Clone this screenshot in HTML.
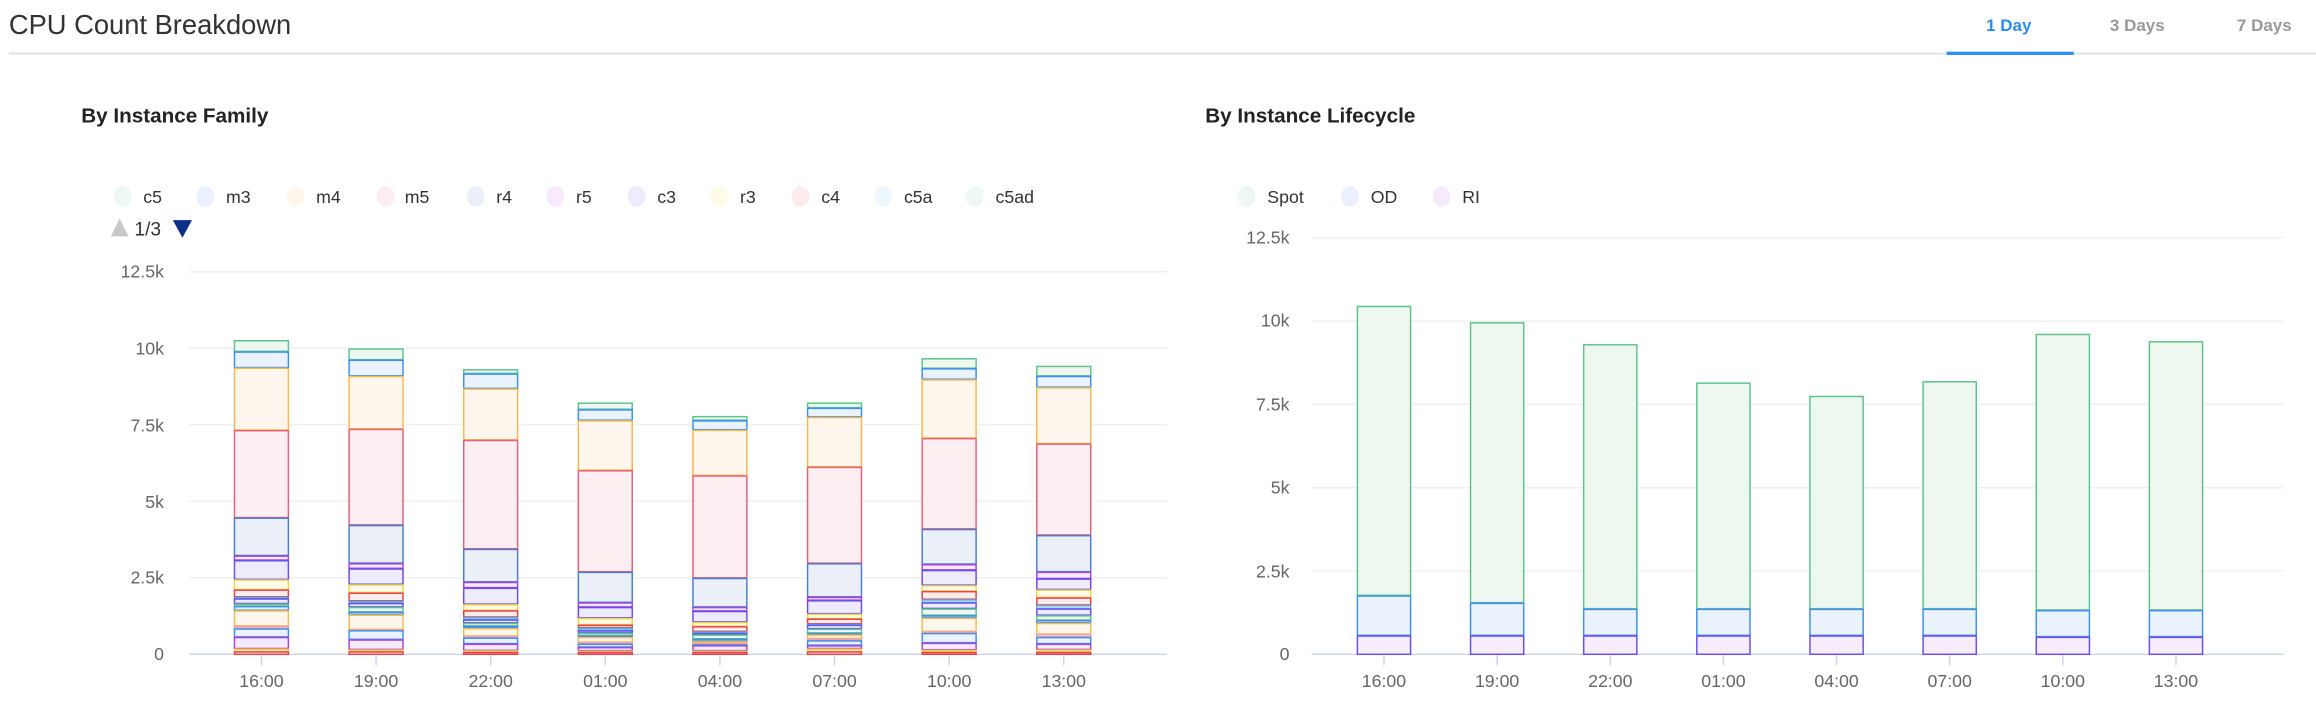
<!DOCTYPE html>
<html><head><meta charset="utf-8"><style>
html,body{margin:0;padding:0;background:#fff;width:2316px;height:702px;overflow:hidden}
svg{display:block}
text{font-family:"Liberation Sans",sans-serif}
</style></head><body>
<svg id="s" width="2316" height="702" viewBox="0 0 1568 475.3" preserveAspectRatio="none">
<text x="6" y="23" font-size="18.5" fill="#333">CPU Count Breakdown</text>
<text x="1360" y="21" font-size="11.5" font-weight="bold" fill="#2d8cf0" text-anchor="middle">1 Day</text>
<text x="1447" y="21" font-size="11.5" font-weight="bold" fill="#999" text-anchor="middle">3 Days</text>
<text x="1533" y="21" font-size="11.5" font-weight="bold" fill="#999" text-anchor="middle">7 Days</text>
<rect x="6" y="35.5" width="1562" height="1.5" fill="#e3e3e3"/>
<rect x="1318" y="35" width="86" height="2.2" fill="#2d8cf0"/>
<text x="55" y="83" font-size="14" font-weight="bold" fill="#222">By Instance Family</text>
<text x="816" y="83" font-size="14" font-weight="bold" fill="#222">By Instance Lifecycle</text>
<g font-size="12" fill="#333">
<ellipse cx="83" cy="133" rx="6" ry="7" fill="#ecf8f1"/><text x="97" y="137.5">c5</text>
<ellipse cx="139" cy="133" rx="6" ry="7" fill="#eaf1fd"/><text x="153" y="137.5">m3</text>
<ellipse cx="200" cy="133" rx="6" ry="7" fill="#fff6ec"/><text x="214" y="137.5">m4</text>
<ellipse cx="261" cy="133" rx="6" ry="7" fill="#fdedf2"/><text x="274" y="137.5">m5</text>
<ellipse cx="322" cy="133" rx="6" ry="7" fill="#eaeff8"/><text x="336" y="137.5">r4</text>
<ellipse cx="376" cy="133" rx="6" ry="7" fill="#f6eafc"/><text x="390" y="137.5">r5</text>
<ellipse cx="431" cy="133" rx="6" ry="7" fill="#eeebfd"/><text x="445" y="137.5">c3</text>
<ellipse cx="487" cy="133" rx="6" ry="7" fill="#fffbe9"/><text x="501" y="137.5">r3</text>
<ellipse cx="542" cy="133" rx="6" ry="7" fill="#fdecee"/><text x="556" y="137.5">c4</text>
<ellipse cx="598" cy="133" rx="6" ry="7" fill="#eef7fd"/><text x="612" y="137.5">c5a</text>
<ellipse cx="660" cy="133" rx="6" ry="7" fill="#eef9f5"/><text x="674" y="137.5">c5ad</text>
<path d="M75 160 L81 148 L87 160 Z" fill="#c8c8c8"/>
<text x="91" y="159.5" font-size="13" fill="#333">1/3</text>
<path d="M117 149 L130 149 L123.5 161 Z" fill="#0d2f8a"/>
<ellipse cx="844" cy="133" rx="6" ry="7" fill="#ecf8f1"/><text x="858" y="137.5">Spot</text>
<ellipse cx="914" cy="133" rx="6" ry="7" fill="#eaf1fd"/><text x="928" y="137.5">OD</text>
<ellipse cx="976" cy="133" rx="6" ry="7" fill="#f6eafc"/><text x="990" y="137.5">RI</text>
</g>
<g id="L"></g><g id="R"></g>
<g font-size="12" fill="#666" text-anchor="end">
<text x="111" y="188">12.5k</text><text x="111" y="240">10k</text><text x="111" y="292">7.5k</text><text x="111" y="344">5k</text><text x="111" y="395">2.5k</text><text x="111" y="447">0</text>
<text x="873" y="165">12.5k</text><text x="873" y="221">10k</text><text x="873" y="278">7.5k</text><text x="873" y="334">5k</text><text x="873" y="391">2.5k</text><text x="873" y="447">0</text>
</g>
<g font-size="12" fill="#666" text-anchor="middle">
<text x="177" y="465">16:00</text><text x="254.6" y="465">19:00</text><text x="332.2" y="465">22:00</text><text x="409.8" y="465">01:00</text><text x="487.4" y="465">04:00</text><text x="565" y="465">07:00</text><text x="642.6" y="465">10:00</text><text x="720.2" y="465">13:00</text>
<text x="937" y="465">16:00</text><text x="1013.6" y="465">19:00</text><text x="1090.2" y="465">22:00</text><text x="1166.8" y="465">01:00</text><text x="1243.4" y="465">04:00</text><text x="1320" y="465">07:00</text><text x="1396.6" y="465">10:00</text><text x="1473.2" y="465">13:00</text>
</g>
</svg>
<script>
var NS="http://www.w3.org/2000/svg";
function el(p,t,a){var e=document.createElementNS(NS,t);for(var k in a)e.setAttribute(k,a[k]);p.appendChild(e);return e;}
var C={G:["#5fc28d","#eef8f1"],B:["#3d8ff0","#eaf2fd"],O:["#f5b94f","#fff7ed"],P:["#e8607a","#fdeef2"],R4:["#4a7fd0","#eaeff8"],PU:["#a845d8","#f5eafc"],V:["#6a4ef0","#eeebfd"],Y:["#ecd34a","#fffbe8"],RD:["#e8404a","#fdecec"],CA:["#4fb3e8","#eef7fd"],PL:["#f0a0b0","#fdf0f2"],T:["#5fbf9f","#eef9f5"]};
var seq=["G","B","O","P","R4","PU","V","Y","RD","CA","V","G","B","O","PL","B","PU","Y","RD"];
var L=document.getElementById("L"),R=document.getElementById("R");
[0,2.5,5,7.5,10,12.5].forEach(function(v){var y=443-v/12.5*259;el(L,"rect",{x:128,y:y-0.5,width:662,height:1,fill:v?"#f0f0f0":"#ccd6eb"});
var y2=443-v/12.5*282;el(R,"rect",{x:888,y:y2-0.5,width:658,height:1,fill:v?"#f0f0f0":"#ccd6eb"});});
var bars=[
[10.27,9.9,9.37,7.33,4.47,3.23,3.08,2.45,2.12,1.88,1.83,1.66,1.58,1.44,0.93,0.85,0.57,0.19,0.1],
[10.0,9.63,9.1,7.37,4.23,2.98,2.81,2.29,2.02,1.75,1.68,1.55,1.39,1.3,0.82,0.79,0.49,0.16,0.1],
[9.32,9.18,8.69,7.01,3.45,2.37,2.18,1.64,1.44,1.22,1.14,1.03,0.93,0.86,0.6,0.55,0.35,0.13,0.08],
[8.23,8.01,7.65,6.02,2.7,1.7,1.55,1.19,0.97,0.87,0.79,0.71,0.62,0.57,0.4,0.35,0.24,0.12,0.08],
[7.79,7.65,7.34,5.85,2.5,1.55,1.42,1.06,0.92,0.75,0.7,0.65,0.51,0.43,0.36,0.33,0.3,0.12,0.08],
[8.23,8.06,7.76,6.13,2.98,1.88,1.77,1.33,1.17,1.0,0.97,0.84,0.7,0.65,0.52,0.46,0.3,0.19,0.1],
[9.68,9.35,8.99,7.07,4.1,2.95,2.76,2.26,2.07,1.8,1.7,1.5,1.28,1.2,0.75,0.7,0.38,0.15,0.08],
[9.43,9.1,8.73,6.89,3.9,2.7,2.48,2.12,1.86,1.61,1.5,1.28,1.12,1.03,0.66,0.57,0.35,0.16,0.08]];
bars.forEach(function(b,i){var cx=177+i*77.6,w=37.5;
 for(var j=0;j<b.length;j++){var top=443-b[j]/12.5*259,bot=443-(j+1<b.length?b[j+1]:0)/12.5*259;var c=C[seq[j]];
  el(L,"rect",{x:cx-w/2+0.5,y:top+0.5,width:w-1,height:Math.max(bot-top-0.5,0.5),fill:c[1],stroke:c[0],"stroke-width":1});}
 el(L,"rect",{x:cx-0.5,y:443.5,width:1,height:7,fill:"#ccd6eb"});});
var spot=[10.46,9.97,9.31,8.16,7.76,8.2,9.62,9.4],od=[1.77,1.55,1.37,1.37,1.37,1.37,1.33,1.33],ri=[0.57,0.57,0.57,0.57,0.57,0.57,0.53,0.53];
spot.forEach(function(s,i){var cx=937+i*76.6,w=37;function y(v){return 443-v/12.5*282;}
 [[s,od[i],C.G],[od[i],ri[i],C.B],[ri[i],0,["#6a4ef0","#f6ecfc"]]].forEach(function(q){
  el(R,"rect",{x:cx-w/2+0.5,y:y(q[0])+0.5,width:w-1,height:y(q[1])-y(q[0])-0.5,fill:q[2][1],stroke:q[2][0],"stroke-width":1});});
 el(R,"rect",{x:cx-0.5,y:443.5,width:1,height:7,fill:"#ccd6eb"});});
</script>
</body></html>
